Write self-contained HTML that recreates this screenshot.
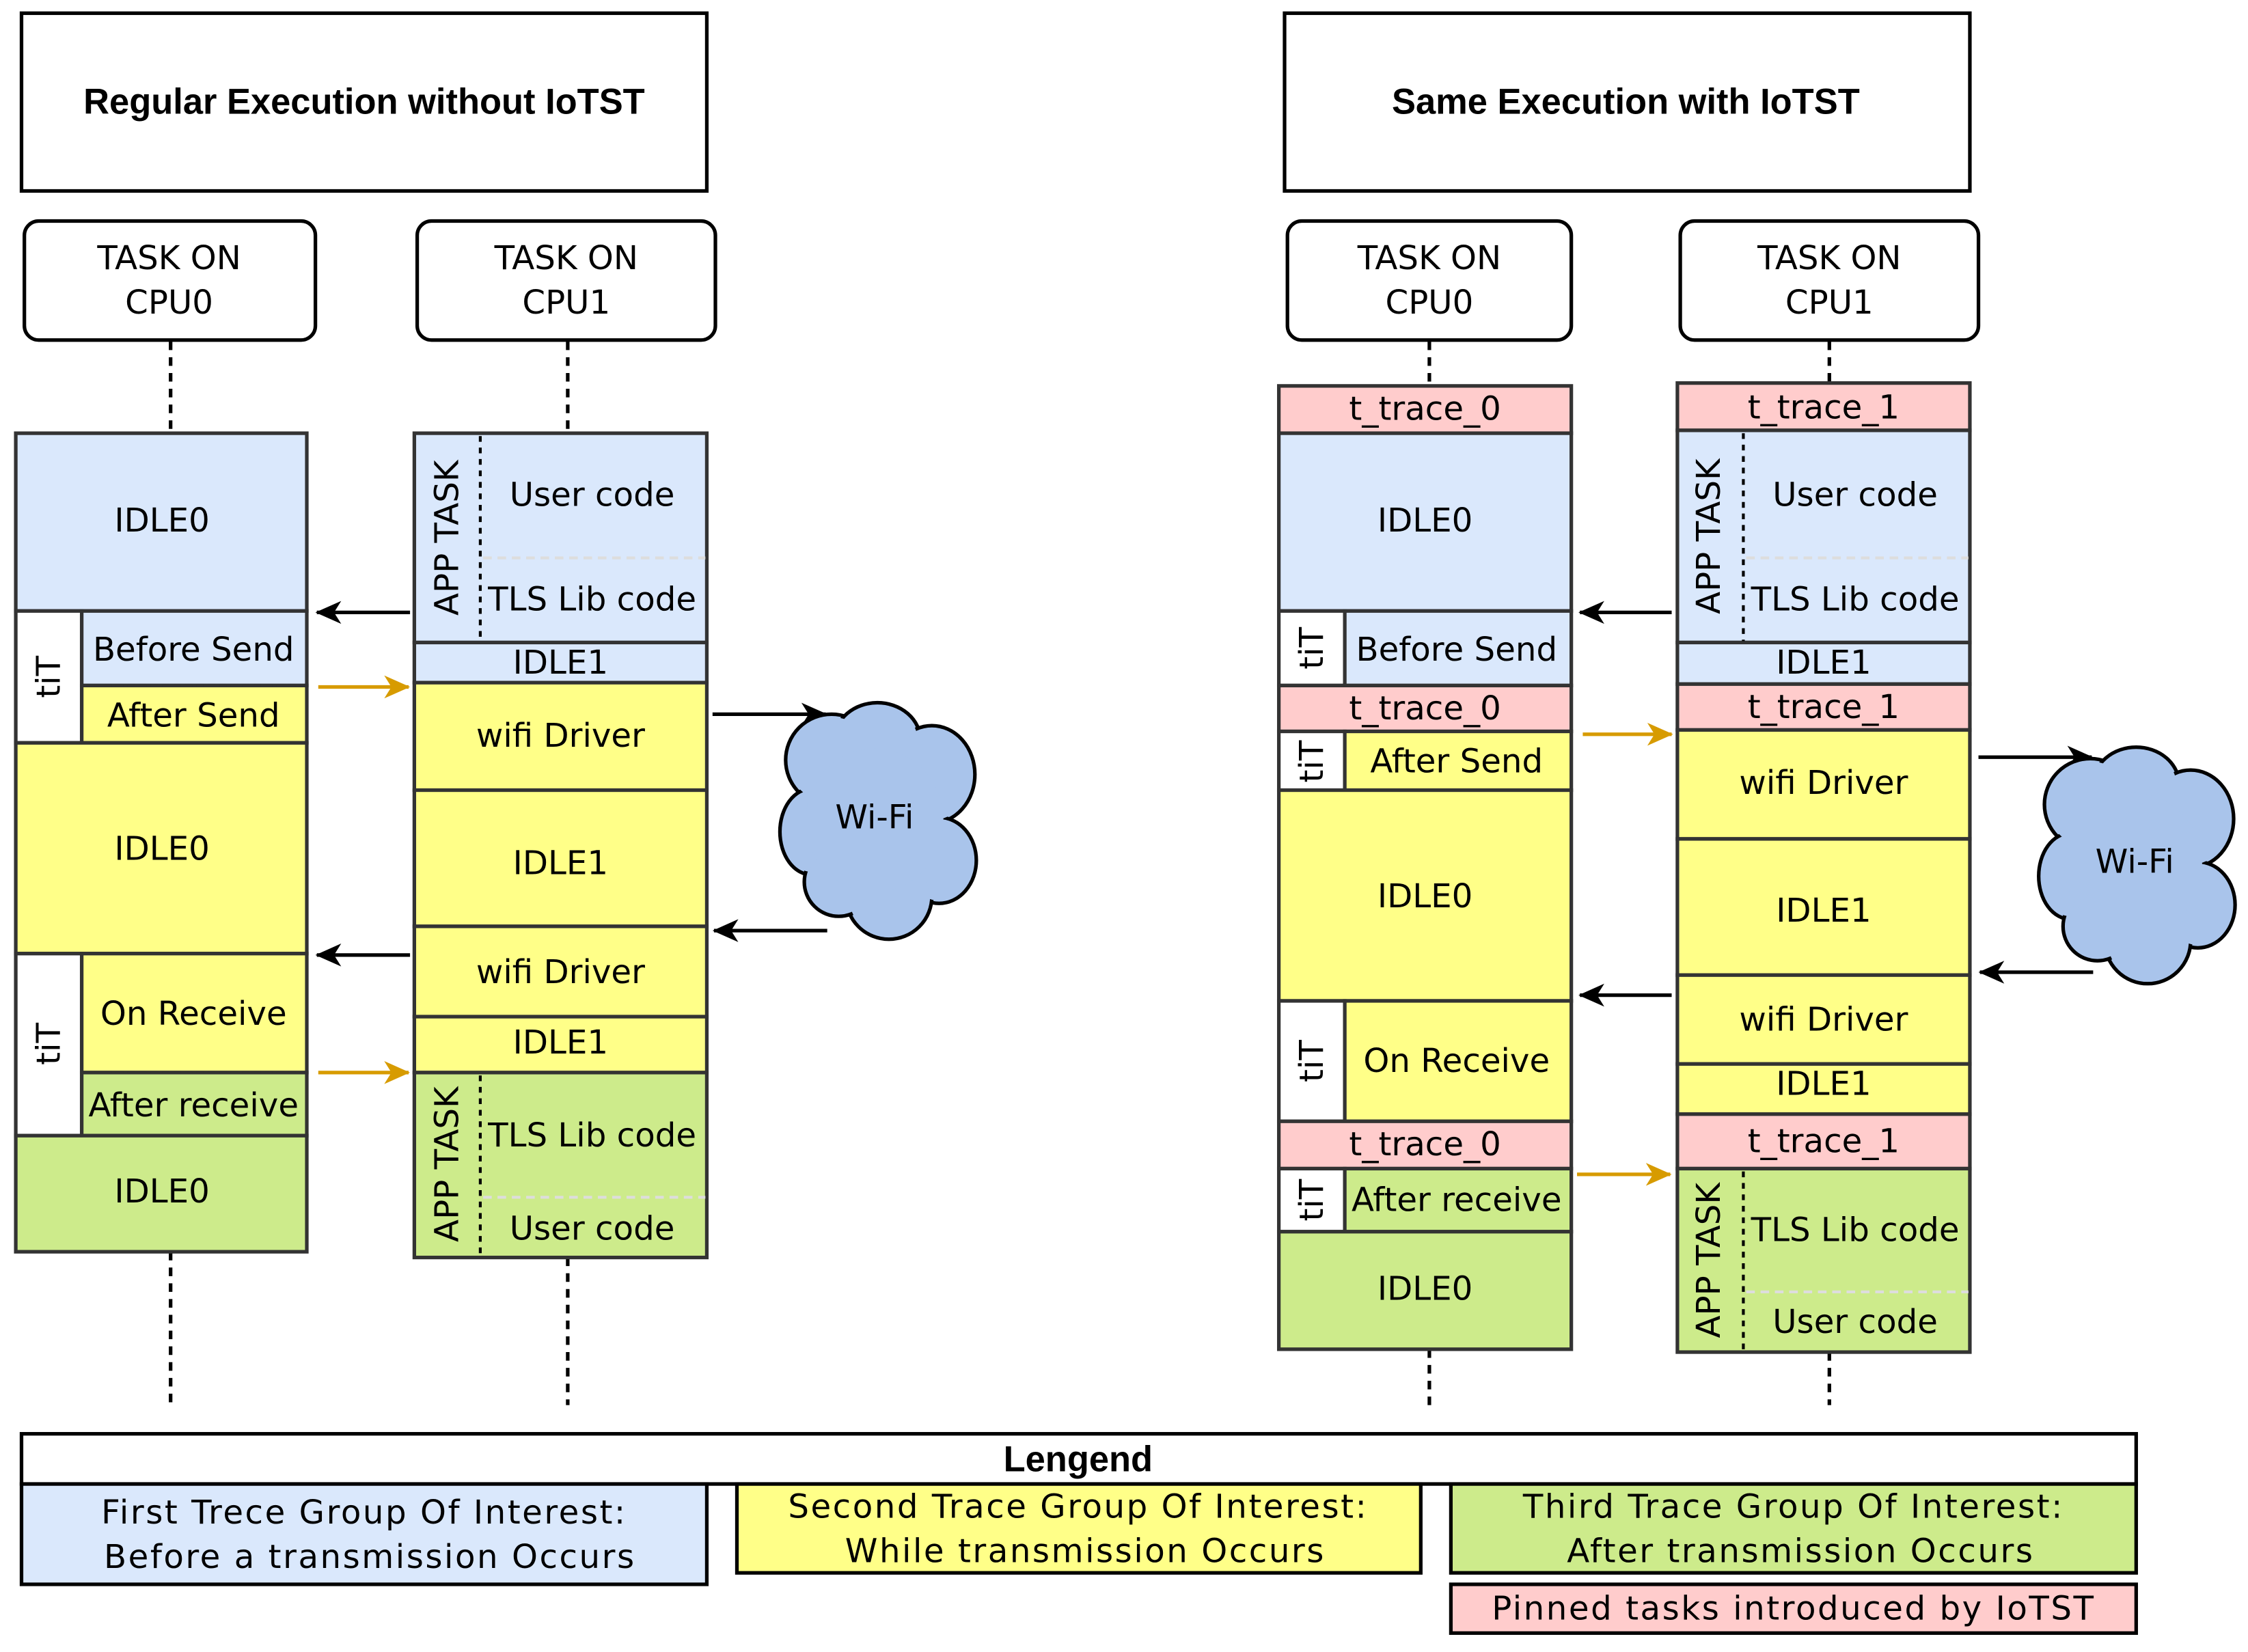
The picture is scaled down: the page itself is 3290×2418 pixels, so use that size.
<!DOCTYPE html>
<html><head><meta charset="utf-8"><style>
html,body{margin:0;padding:0;background:#fff}
svg{display:block}
text{font-family:"DejaVu Sans","Liberation Sans",sans-serif;font-size:23px;fill:#000;text-anchor:middle;dominant-baseline:central}
.b{font-family:"Liberation Sans",sans-serif;font-weight:bold;font-size:25px}
.lg{letter-spacing:1.2px}
.bl{fill:#dae8fc}.ye{fill:#ffff88}.gr{fill:#cdeb8b}.pk{fill:#ffcccc}.wh{fill:#fff}
.s{stroke:#333;stroke-width:2.5}
</style></head><body>
<svg width="3290" height="2418" viewBox="0 0 1568 1152" xmlns="http://www.w3.org/2000/svg">
<defs>
<marker id="ak" markerWidth="18" markerHeight="18" refX="17" refY="9" orient="auto" markerUnits="userSpaceOnUse" viewBox="0 0 18 18"><path d="M0,1 L18,9 L0,17 L5,9 Z" fill="#000"/></marker>
<marker id="ao" markerWidth="18" markerHeight="18" refX="17" refY="9" orient="auto" markerUnits="userSpaceOnUse" viewBox="0 0 18 18"><path d="M0,1 L18,9 L0,17 L5,9 Z" fill="#d79b00"/></marker>
</defs>
<g stroke="#000" stroke-width="2.5" fill="#fff">
<rect x="15" y="9" width="478" height="124"/>
<rect x="896" y="9" width="478" height="124"/>
<rect x="17" y="154" width="203" height="83" rx="10"/>
<rect x="291" y="154" width="208" height="83" rx="10"/>
<rect x="898" y="154" width="198" height="83" rx="10"/>
<rect x="1172" y="154" width="208" height="83" rx="10"/>
</g>
<text class="b" x="254" y="71">Regular Execution without IoTST</text>
<text class="b" x="1134" y="71">Same Execution with IoTST</text>
<text x="118" y="180">TASK ON</text><text x="118" y="211">CPU0</text>
<text x="395" y="180">TASK ON</text><text x="395" y="211">CPU1</text>
<text x="997" y="180">TASK ON</text><text x="997" y="211">CPU0</text>
<text x="1276" y="180">TASK ON</text><text x="1276" y="211">CPU1</text>
<g stroke="#000" stroke-width="2.5" stroke-dasharray="6,5">
<line x1="119" y1="238" x2="119" y2="302"/><line x1="119" y1="873" x2="119" y2="980"/>
<line x1="396" y1="238" x2="396" y2="302"/><line x1="396" y1="877" x2="396" y2="980"/>
<line x1="997" y1="238" x2="997" y2="269"/><line x1="997" y1="941" x2="997" y2="980"/>
<line x1="1276" y1="238" x2="1276" y2="267"/><line x1="1276" y1="943" x2="1276" y2="980"/>
</g>
<!-- LEFT CPU0 -->
<g class="s">
<rect class="bl" x="11" y="302" width="203" height="124"/>
<rect class="wh" x="11" y="426" width="46" height="92"/>
<rect class="bl" x="57" y="426" width="157" height="52"/>
<rect class="ye" x="57" y="478" width="157" height="40"/>
<rect class="ye" x="11" y="518" width="203" height="147"/>
<rect class="wh" x="11" y="665" width="46" height="127"/>
<rect class="ye" x="57" y="665" width="157" height="83"/>
<rect class="gr" x="57" y="748" width="157" height="44"/>
<rect class="gr" x="11" y="792" width="203" height="81"/>
</g>
<g stroke="#333" stroke-width="1.5" stroke-dasharray="5,3">
<line x1="57" y1="478" x2="214" y2="478"/><line x1="57" y1="748" x2="214" y2="748"/>
</g>
<text x="113" y="363">IDLE0</text>
<text x="135" y="453">Before Send</text>
<text x="135" y="499">After Send</text>
<text x="113" y="592">IDLE0</text>
<text x="135" y="707">On Receive</text>
<text x="135" y="771">After receive</text>
<text x="113" y="831">IDLE0</text>
<text transform="translate(34,472) rotate(-90)">tiT</text>
<text transform="translate(34,728) rotate(-90)">tiT</text>
<!-- LEFT CPU1 -->
<g class="s">
<rect class="bl" x="289" y="302" width="204" height="146"/>
<rect class="bl" x="289" y="448" width="204" height="28"/>
<rect class="ye" x="289" y="476" width="204" height="75"/>
<rect class="ye" x="289" y="551" width="204" height="95"/>
<rect class="ye" x="289" y="646" width="204" height="63"/>
<rect class="ye" x="289" y="709" width="204" height="39"/>
<rect class="gr" x="289" y="748" width="204" height="129"/>
</g>
<g stroke="#000" stroke-width="2" stroke-dasharray="4,4"><line x1="335" y1="304" x2="335" y2="447"/><line x1="335" y1="750" x2="335" y2="876"/></g>
<g stroke="#ddd" stroke-width="2" stroke-dasharray="6,4"><line x1="337" y1="389" x2="492" y2="389"/><line x1="337" y1="835" x2="492" y2="835"/></g>
<text x="413" y="345">User code</text><text x="413" y="418">TLS Lib code</text>
<text x="391" y="462">IDLE1</text><text x="391" y="513">wifi Driver</text>
<text x="391" y="602">IDLE1</text><text x="391" y="678">wifi Driver</text>
<text x="391" y="727">IDLE1</text><text x="413" y="792">TLS Lib code</text><text x="413" y="857">User code</text>
<text transform="translate(312,375) rotate(-90)">APP TASK</text>
<text transform="translate(312,812) rotate(-90)">APP TASK</text>
<!-- RIGHT CPU0 -->
<g class="s">
<rect class="pk" x="892" y="269" width="204" height="33"/>
<rect class="bl" x="892" y="302" width="204" height="124"/>
<rect class="wh" x="892" y="426" width="46" height="52"/>
<rect class="bl" x="938" y="426" width="158" height="52"/>
<rect class="pk" x="892" y="478" width="204" height="32"/>
<rect class="wh" x="892" y="510" width="46" height="41"/>
<rect class="ye" x="938" y="510" width="158" height="41"/>
<rect class="ye" x="892" y="551" width="204" height="147"/>
<rect class="wh" x="892" y="698" width="46" height="84"/>
<rect class="ye" x="938" y="698" width="158" height="84"/>
<rect class="pk" x="892" y="782" width="204" height="33"/>
<rect class="wh" x="892" y="815" width="46" height="44"/>
<rect class="gr" x="938" y="815" width="158" height="44"/>
<rect class="gr" x="892" y="859" width="204" height="82"/>
</g>
<text x="994" y="285">t_trace_0</text><text x="994" y="363">IDLE0</text>
<text x="1016" y="453">Before Send</text><text x="994" y="494">t_trace_0</text>
<text x="1016" y="531">After Send</text><text x="994" y="625">IDLE0</text>
<text x="1016" y="740">On Receive</text><text x="994" y="798">t_trace_0</text>
<text x="1016" y="837">After receive</text><text x="994" y="899">IDLE0</text>
<text transform="translate(915,452) rotate(-90)">tiT</text>
<text transform="translate(915,531) rotate(-90)">tiT</text>
<text transform="translate(915,740) rotate(-90)">tiT</text>
<text transform="translate(915,837) rotate(-90)">tiT</text>
<!-- RIGHT CPU1 -->
<g class="s">
<rect class="pk" x="1170" y="267" width="204" height="33"/>
<rect class="bl" x="1170" y="300" width="204" height="148"/>
<rect class="bl" x="1170" y="448" width="204" height="29"/>
<rect class="pk" x="1170" y="477" width="204" height="32"/>
<rect class="ye" x="1170" y="509" width="204" height="76"/>
<rect class="ye" x="1170" y="585" width="204" height="95"/>
<rect class="ye" x="1170" y="680" width="204" height="62"/>
<rect class="ye" x="1170" y="742" width="204" height="35"/>
<rect class="pk" x="1170" y="777" width="204" height="38"/>
<rect class="gr" x="1170" y="815" width="204" height="128"/>
</g>
<g stroke="#000" stroke-width="2" stroke-dasharray="4,4"><line x1="1216" y1="302" x2="1216" y2="447"/><line x1="1216" y1="817" x2="1216" y2="942"/></g>
<g stroke="#ddd" stroke-width="2" stroke-dasharray="6,4"><line x1="1218" y1="389" x2="1373" y2="389"/><line x1="1218" y1="901" x2="1373" y2="901"/></g>
<text x="1272" y="284">t_trace_1</text>
<text x="1294" y="345">User code</text><text x="1294" y="418">TLS Lib code</text>
<text x="1272" y="462">IDLE1</text><text x="1272" y="493">t_trace_1</text>
<text x="1272" y="546">wifi Driver</text><text x="1272" y="635">IDLE1</text>
<text x="1272" y="711">wifi Driver</text><text x="1272" y="756">IDLE1</text>
<text x="1272" y="796">t_trace_1</text>
<text x="1294" y="858">TLS Lib code</text><text x="1294" y="922">User code</text>
<text transform="translate(1192,374) rotate(-90)">APP TASK</text>
<text transform="translate(1192,879) rotate(-90)">APP TASK</text>
<!-- arrows -->
<g stroke="#000" stroke-width="2.5" marker-end="url(#ak)">
<line x1="286" y1="427" x2="221" y2="427"/><line x1="286" y1="666" x2="221" y2="666"/>
<line x1="497" y1="498" x2="576" y2="498"/><line x1="577" y1="649" x2="498" y2="649"/>
<line x1="1166" y1="427" x2="1102" y2="427"/><line x1="1166" y1="694" x2="1102" y2="694"/>
<line x1="1380" y1="528" x2="1459" y2="528"/><line x1="1460" y1="678" x2="1381" y2="678"/>
</g>
<g stroke="#d79b00" stroke-width="2.5" marker-end="url(#ao)">
<line x1="222" y1="479" x2="285" y2="479"/><line x1="222" y1="748" x2="285" y2="748"/>
<line x1="1104" y1="512" x2="1166" y2="512"/><line x1="1100" y1="819" x2="1165" y2="819"/>
</g>
<!-- clouds -->
<g id="cl">
<g fill="#a9c4eb" stroke="#000" stroke-width="2.5">
<ellipse cx="580" cy="530" rx="32" ry="32"/><ellipse cx="612" cy="516" rx="30" ry="26"/>
<ellipse cx="650" cy="540" rx="30" ry="34"/><ellipse cx="566" cy="580" rx="22" ry="30"/>
<ellipse cx="655" cy="600" rx="26" ry="30"/><ellipse cx="620" cy="625" rx="30" ry="30"/>
<ellipse cx="585" cy="615" rx="24" ry="24"/>
</g>
<g fill="#a9c4eb">
<ellipse cx="580" cy="530" rx="30" ry="30"/><ellipse cx="612" cy="516" rx="28" ry="24"/>
<ellipse cx="650" cy="540" rx="28" ry="32"/><ellipse cx="566" cy="580" rx="20" ry="28"/>
<ellipse cx="655" cy="600" rx="24" ry="28"/><ellipse cx="620" cy="625" rx="28" ry="28"/>
<ellipse cx="585" cy="615" rx="22" ry="22"/><ellipse cx="610" cy="572" rx="48" ry="50"/>
</g>
</g>
<use href="#cl" transform="translate(878,31)"/>
<text x="610" y="570">Wi-Fi</text>
<text x="1489" y="601">Wi-Fi</text>
<!-- legend -->
<g stroke="#000" stroke-width="2.5">
<rect x="15" y="1000" width="1475" height="35" fill="#fff"/>
<rect x="15" y="1035" width="478" height="70" class="bl"/>
<rect x="514" y="1035" width="477" height="62" class="ye"/>
<rect x="1012" y="1035" width="478" height="62" class="gr"/>
<rect x="1012" y="1105" width="478" height="34" class="pk"/>
</g>
<text class="b" x="752" y="1018">Lengend</text>
<text class="lg" x="254" y="1055">First Trece Group Of Interest:</text>
<text class="lg" x="258" y="1086">Before a transmission Occurs</text>
<text class="lg" x="752" y="1051">Second Trace Group Of Interest:</text>
<text class="lg" x="757" y="1082">While transmission Occurs</text>
<text class="lg" x="1251" y="1051">Third Trace Group Of Interest:</text>
<text class="lg" x="1256" y="1082">After transmission Occurs</text>
<text class="lg" x="1251" y="1122">Pinned tasks introduced by IoTST</text>
</svg>
</body></html>
